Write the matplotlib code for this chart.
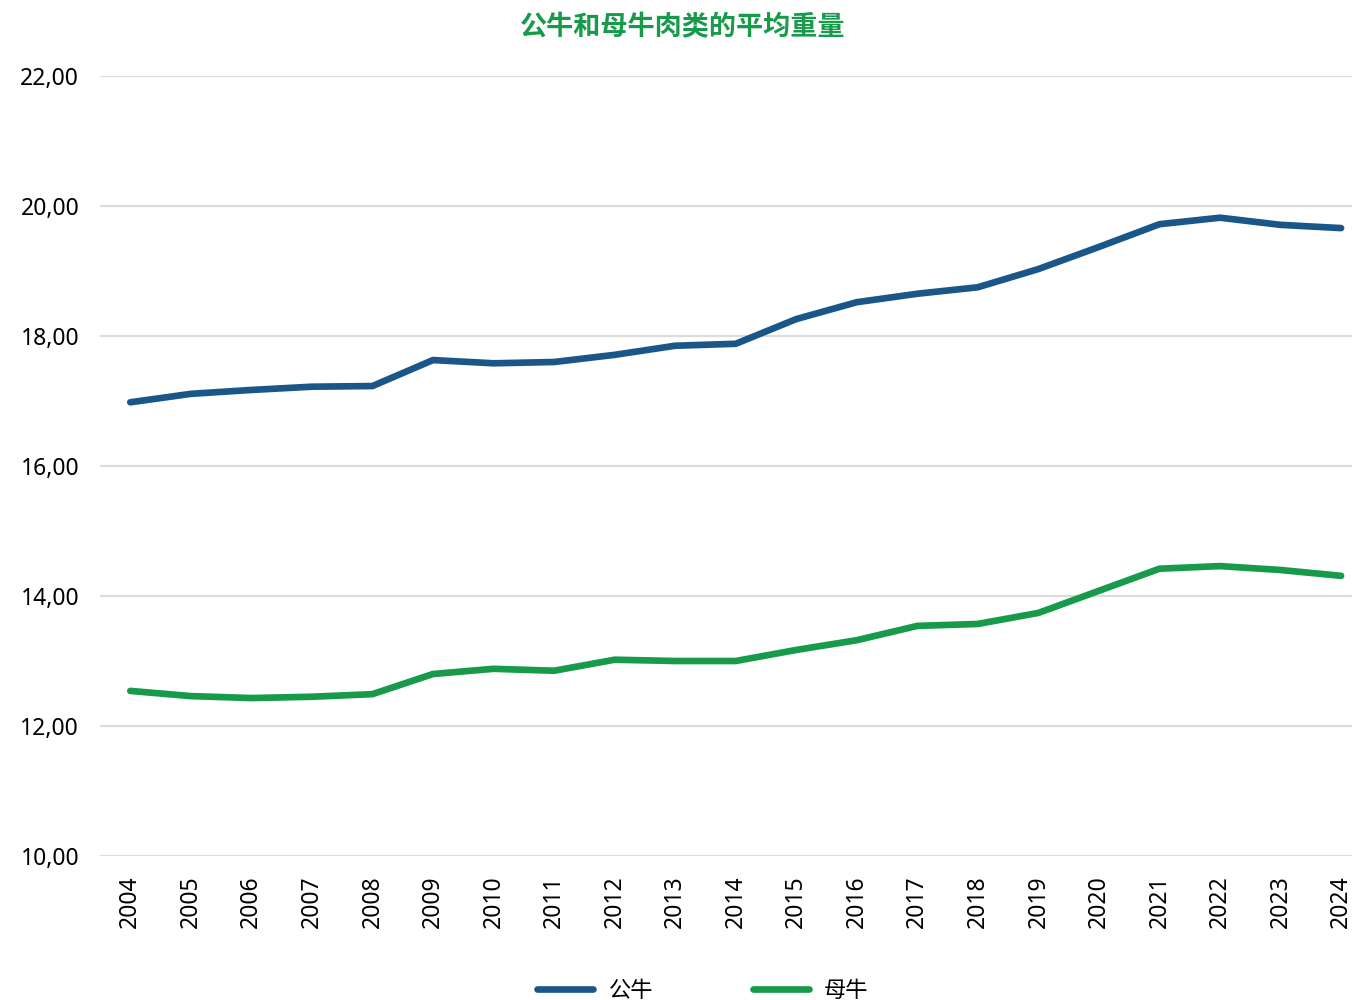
import matplotlib
matplotlib.use("Agg")
import matplotlib.pyplot as plt
from matplotlib.ticker import FuncFormatter

plt.rcParams['font.family'] = ['Noto Sans CJK SC', 'DejaVu Sans']

# Data
years = list(range(2004, 2025))
bulls = [16.98, 17.11, 17.17, 17.22, 17.23, 17.63, 17.58, 17.60, 17.71, 17.85, 17.88,
         18.26, 18.52, 18.65, 18.75, 19.03, 19.37, 19.72, 19.82, 19.71, 19.66]
cows = [12.54, 12.46, 12.43, 12.45, 12.49, 12.80, 12.88, 12.85, 13.02, 13.00, 13.00,
        13.17, 13.32, 13.54, 13.57, 13.74, 14.08, 14.42, 14.46, 14.40, 14.31]

blue = "#1a5788"
green = "#179a4a"

fig = plt.figure(figsize=(13.52, 10), dpi=100)
ax = fig.add_axes([100 / 1352, 0.144, 1 - 100 / 1352, 0.78])

ax.plot(years, bulls, color=blue, lw=4.8, solid_capstyle="round", label="公牛")
ax.plot(years, cows, color=green, lw=4.8, solid_capstyle="round", label="母牛")

ax.set_xlim(2003.5, 2024.18)
ax.set_ylim(10, 22)
ax.set_yticks(range(10, 23, 2))
ax.yaxis.set_major_formatter(FuncFormatter(lambda v, p: f"{v:.2f}".replace(".", ",")))
ax.set_xticks(years)
ax.set_xticklabels([str(y) for y in years], rotation=90)

ax.grid(axis="y", color="#dcdcdc", lw=1.6)
ax.set_axisbelow(True)
for s in ax.spines.values():
    s.set_visible(False)
ax.tick_params(axis="both", length=0, labelsize=16.5, colors="black")
ax.tick_params(axis="y", pad=15)
ax.tick_params(axis="x", pad=14)
for lab in ax.get_xticklabels() + ax.get_yticklabels():
    lab.set_family(['Noto Sans', 'DejaVu Sans'])

fig.text(0.505, 0.973, "公牛和母牛肉类的平均重量", ha="center", va="center",
         fontsize=19.5, fontweight="bold", color=green)

fig.legend(loc="lower center", bbox_to_anchor=(0.52, -0.022), ncol=2, frameon=False,
           fontsize=16, handlelength=2.5, columnspacing=4.5, handletextpad=0.7)

fig.savefig("out.png", dpi=100)
